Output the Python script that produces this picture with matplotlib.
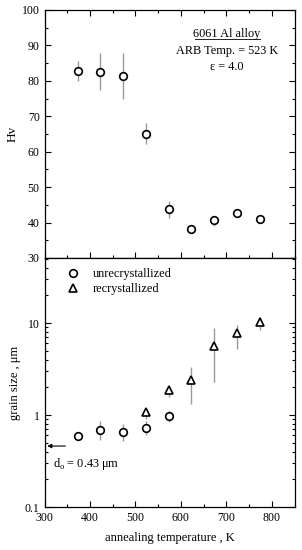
import matplotlib
matplotlib.use('Agg')
import matplotlib.pyplot as plt
from matplotlib.ticker import MultipleLocator, LogLocator, NullFormatter
import numpy as np

plt.rcParams['font.family'] = ['Liberation Serif', 'DejaVu Serif']
plt.rcParams['mathtext.fontset'] = 'custom'
plt.rcParams['mathtext.rm'] = 'Liberation Serif'

# 硬度数据
temp_hv = [373, 423, 473, 523, 573, 623, 673, 723, 773]
hv = [82.8, 82.5, 81.4, 65.1, 43.7, 38.3, 40.7, 42.8, 41.0]
hv_lo = [80.0, 77.3, 74.9, 62.2, 41.3, 37.6, 39.1, 41.9, 40.6]
hv_hi = [85.6, 87.8, 87.8, 68.0, 46.1, 39.0, 41.9, 43.7, 41.4]

# 晶粒尺寸 - 未再结晶
temp_un = [373, 423, 473, 523, 573]
d_un = [0.586, 0.693, 0.659, 0.716, 0.975]
d_un_lo = [0.56, 0.535, 0.52, 0.606, 0.84]
d_un_hi = [0.61, 0.86, 0.79, 0.86, 1.10]

# 晶粒尺寸 - 再结晶
temp_re = [523, 573, 623, 673, 723, 773]
d_re = [1.07, 1.85, 2.38, 5.62, 7.72, 10.2]
d_re_lo = [0.91, 1.57, 1.32, 2.30, 5.26, 8.45]
d_re_hi = [1.15, 2.06, 3.35, 8.9, 9.6, 11.6]

d0 = 0.43

W, H = 302, 550
fig = plt.figure(figsize=(W / 100, H / 100), dpi=100)
left, right = 44.5 / W, 294.5 / W
ax1 = fig.add_axes([left, 1 - 258 / H, right - left, (258 - 10) / H])
ax2 = fig.add_axes([left, 1 - 507 / H, right - left, (507 - 258) / H], sharex=ax1)

ebar_col = '#999999'
fs = 8.5


def yerr(v, lo, hi):
    v = np.array(v)
    return [v - np.array(lo), np.array(hi) - v]


# 上图：Hv
ax1.errorbar(temp_hv, hv, yerr=yerr(hv, hv_lo, hv_hi), fmt='none',
             ecolor=ebar_col, elinewidth=1.0, capsize=0, zorder=1)
ax1.plot(temp_hv, hv, 'o', mfc='white', mec='black', mew=1.2, ms=5.5, zorder=2)
ax1.set_ylim(30, 100)
ax1.yaxis.set_major_locator(MultipleLocator(10))
ax1.yaxis.set_minor_locator(MultipleLocator(5))
ax1.set_ylabel('Hv', fontsize=fs + 1, labelpad=2)
ax1.tick_params(labelbottom=False)

tfs = fs + 0.3
ax1.text(0.73, 0.905, '6061 Al alloy', transform=ax1.transAxes, ha='center',
         va='center', fontsize=tfs)
ax1.plot([0.60, 0.86], [0.882, 0.882], transform=ax1.transAxes,
         color='black', lw=0.6)
ax1.text(0.73, 0.835, 'ARB Temp. = 523 K', transform=ax1.transAxes,
         ha='center', va='center', fontsize=tfs)
ax1.text(0.73, 0.77, 'ε = 4.0', transform=ax1.transAxes, ha='center',
         va='center', fontsize=tfs)

# 下图：晶粒尺寸
ax2.set_yscale('log')
ax2.errorbar(temp_un, d_un, yerr=yerr(d_un, d_un_lo, d_un_hi), fmt='none',
             ecolor=ebar_col, elinewidth=1.0, capsize=0, zorder=1)
ax2.errorbar(temp_re, d_re, yerr=yerr(d_re, d_re_lo, d_re_hi), fmt='none',
             ecolor=ebar_col, elinewidth=1.0, capsize=0, zorder=1)
ax2.plot(temp_un, d_un, 'o', mfc='white', mec='black', mew=1.2, ms=5.5,
         zorder=2, label='unrecrystallized')
ax2.plot(temp_re, d_re, '^', mfc='white', mec='black', mew=1.2, ms=5.5,
         zorder=2, label='recrystallized')
ax2.set_ylim(0.1, 51)
ax2.set_yticks([0.1, 1, 10])
ax2.set_yticklabels(['0.1', '1', '10'])
ax2.yaxis.set_minor_locator(LogLocator(base=10, subs=np.arange(2, 10)))
ax2.yaxis.set_minor_formatter(NullFormatter())
ax2.set_ylabel('grain size , μm', fontsize=fs + 0.5, labelpad=3)
ax2.set_xlabel('annealing temperature , K', fontsize=fs + 0.5, labelpad=6)
ax2.legend(loc='upper left', bbox_to_anchor=(0.045, 1.0), frameon=False,
           fontsize=fs + 0.3, handletextpad=1.0, borderaxespad=0.4,
           labelspacing=0.3, handlelength=1.2)

ax2.annotate('', xy=(300, d0 * 1.07), xytext=(352, d0 * 1.07),
             arrowprops=dict(arrowstyle='-|>', color='black', lw=0.8,
                             mutation_scale=6))
ax2.text(318, 0.29, 'd$_\\mathrm{o}$ = 0.43 μm', fontsize=fs + 0.3, va='center')

ax1.set_xlim(300, 850)
ax1.xaxis.set_major_locator(MultipleLocator(100))
ax1.xaxis.set_minor_locator(MultipleLocator(50))

for ax in (ax1, ax2):
    ax.tick_params(which='both', direction='in', top=True, right=True,
                   labelsize=fs)
    ax.tick_params(which='major', length=4, width=0.8)
    ax.tick_params(which='minor', length=2.5, width=0.8)
    for s in ax.spines.values():
        s.set_linewidth(0.9)
ax2.tick_params(which='both', top=False)

fig.savefig('out.png', dpi=100)
